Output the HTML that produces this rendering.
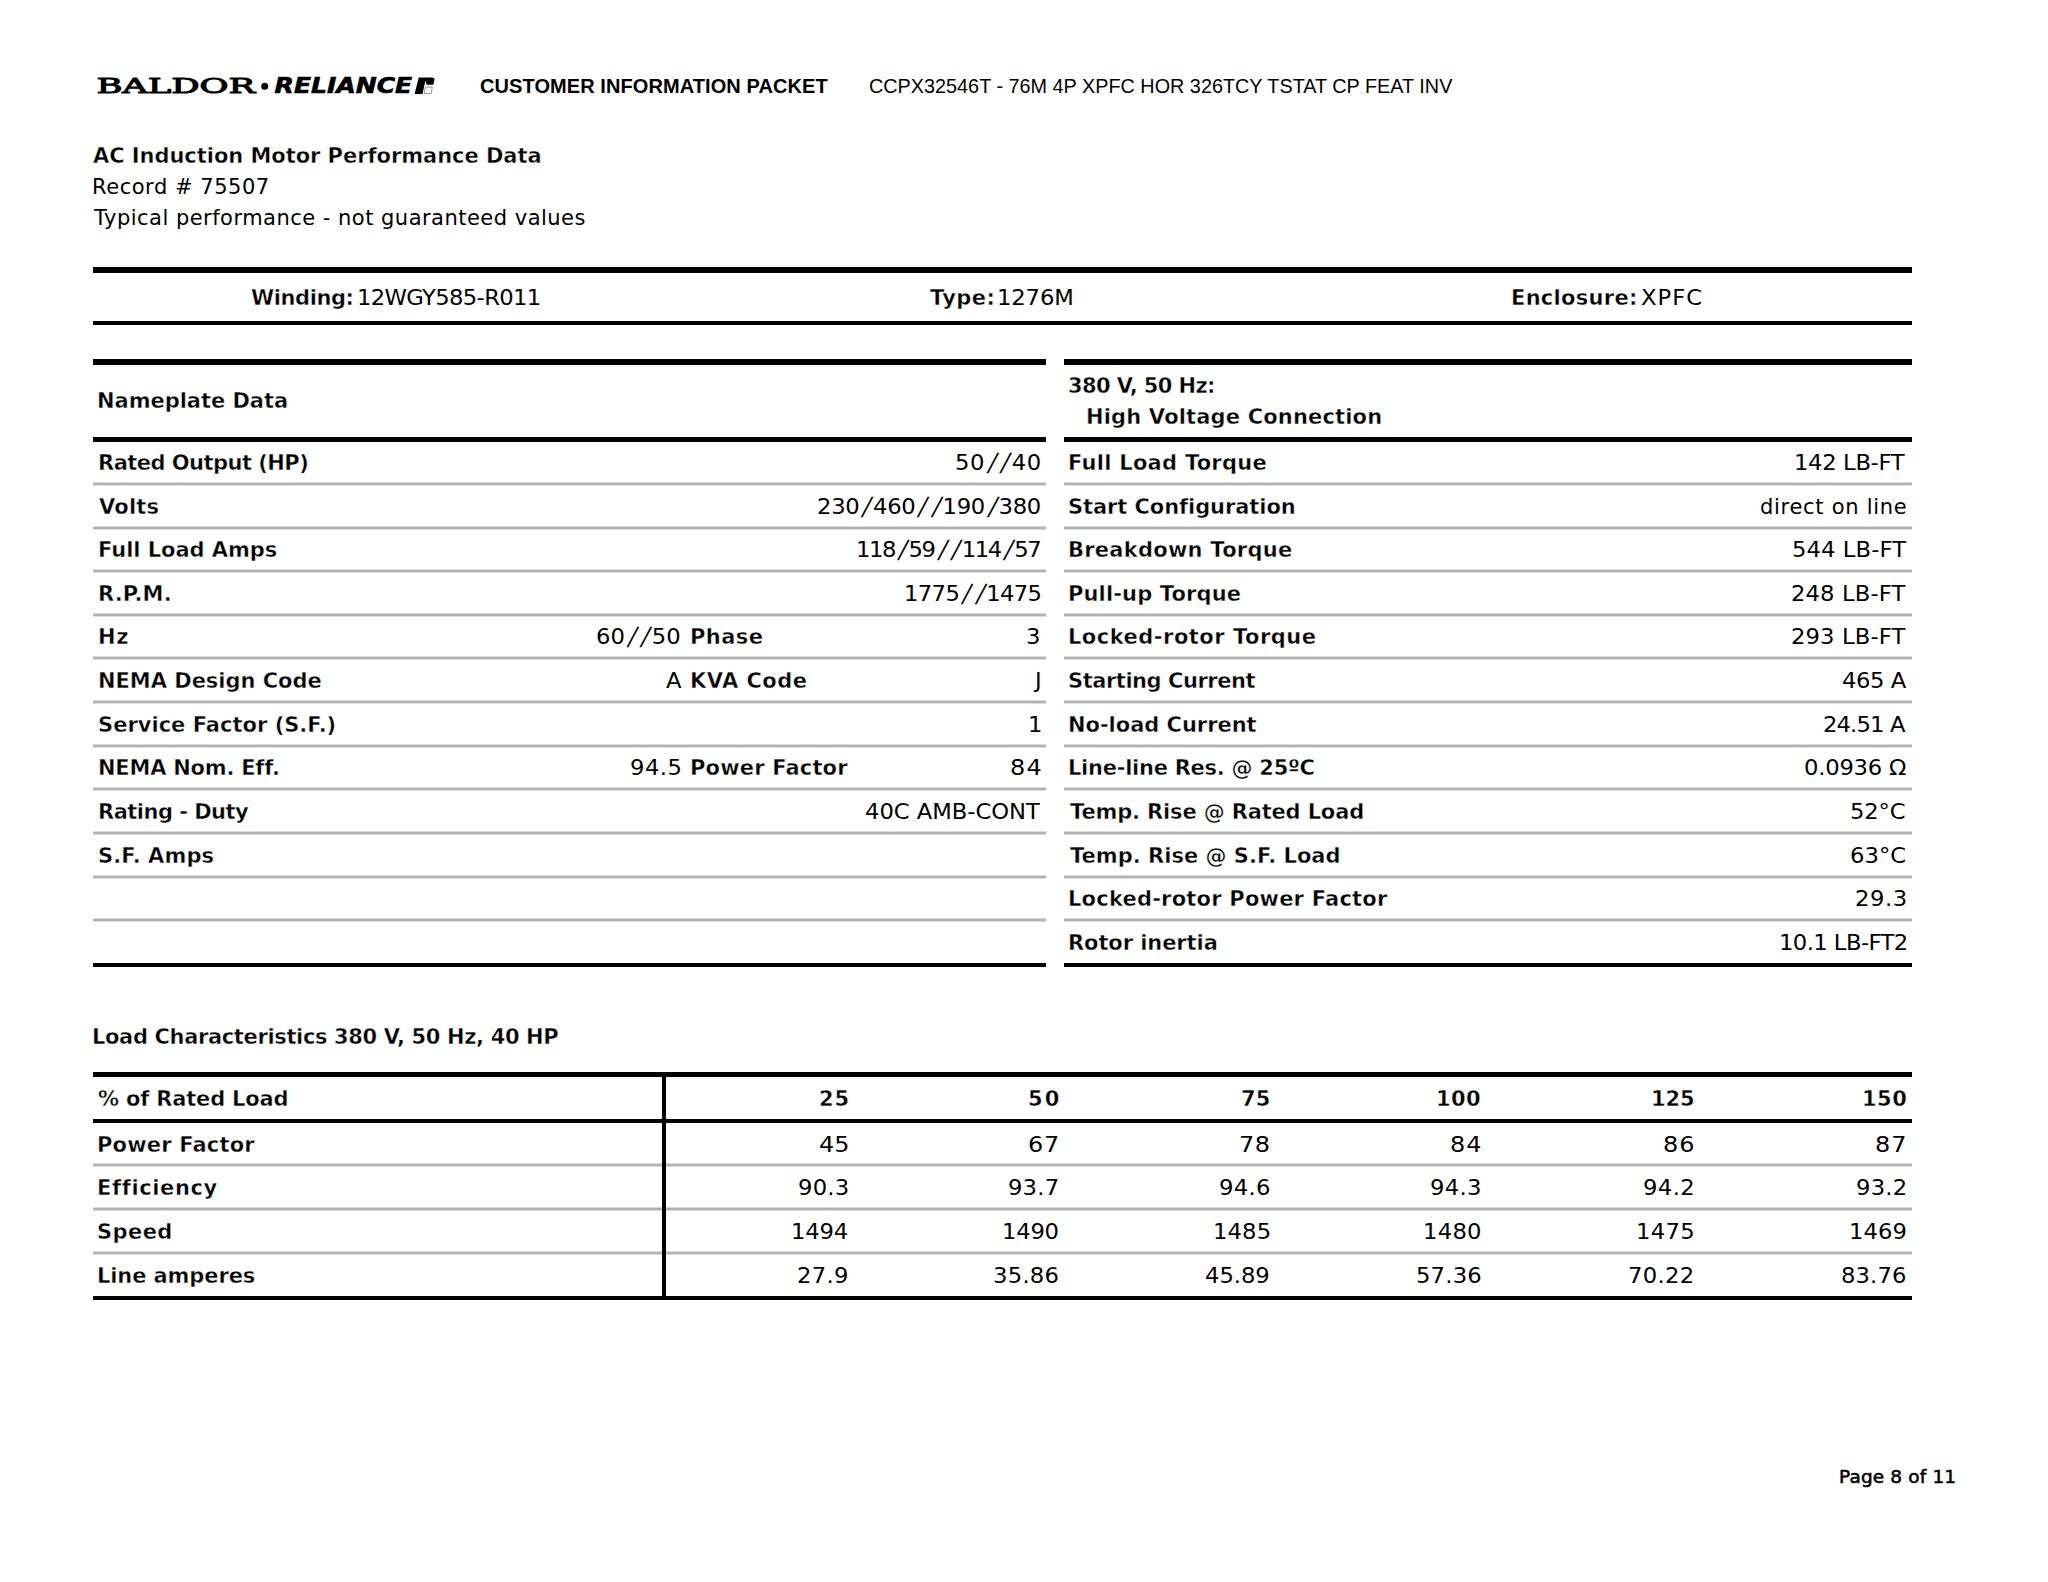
<!DOCTYPE html>
<html lang="en"><head><meta charset="utf-8"><title>Customer Information Packet</title>
<style>
html,body{margin:0;padding:0;background:#fff}
body{width:2048px;height:1582px;position:relative;overflow:hidden;font-family:"DejaVu Sans","Liberation Sans",sans-serif;color:#000}
.t{position:absolute;white-space:nowrap;transform-origin:0 50%;font-size:21px;line-height:26px;font-weight:400}
.b{font-weight:700;-webkit-text-stroke:0.4px #fff}
.ln{position:absolute}
.tl{height:4px;background:linear-gradient(to bottom,#dadada 0,#dadada 25%,#b1b1b1 25%,#b1b1b1 75%,#dedede 75%,#dedede 100%)}
.sl{display:inline-block;width:12.5px;text-align:center;transform:skewX(-13deg) scaleY(1.2);transform-origin:50% 64%}
.h1{font-family:"Liberation Sans",sans-serif;font-weight:700;font-size:20px;color:#000}
.h2{font-family:"Liberation Sans",sans-serif;font-weight:400;font-size:19.8px;color:#000}
.logo{position:absolute;left:90px;top:66px}
.pg{font-size:18.5px;-webkit-text-stroke:0.55px #000}
</style></head>
<body>
<svg class="logo" width="360" height="40" viewBox="90 66 360 40">
<text x="96.4" y="93.3" font-family="'DejaVu Serif','Liberation Serif',serif" font-weight="400" font-size="20.7" textLength="158.6" lengthAdjust="spacingAndGlyphs" stroke="#000" stroke-width="1.0" stroke-linejoin="round" style="vector-effect:non-scaling-stroke">BALDOR</text>
<circle cx="264.7" cy="86.3" r="3.5" fill="#000"/>
<text x="274.6" y="93.4" font-family="'DejaVu Sans','Liberation Sans',sans-serif" font-weight="700" font-style="oblique" font-size="20.9" textLength="137.6" lengthAdjust="spacingAndGlyphs" stroke="#000" stroke-width="0.6">RELIANCE</text>
<path d="M414.6 93.9 L418.7 77.4 H431.6 Q435.2 77.4 434.4 80.4 L433.2 84.8 H426.6 L425.6 80.8 L424.5 84.8 L422.5 93.9 Z" fill="#000"/>
<path d="M425.4 87.1 H432.3 L431.2 93.6 H424.3 Z" fill="#fff" stroke="#777" stroke-width="0.8"/>
</svg>
<div id="t0" class="t h1" style="top:72.97px;left:480px;letter-spacing:0.08px;">CUSTOMER INFORMATION PACKET</div>
<div id="t1" class="t h2" style="top:73.14px;left:869px;letter-spacing:0.02px;">CCPX32546T - 76M 4P XPFC HOR 326TCY TSTAT CP FEAT INV</div>
<div id="t2" class="t b" style="top:142.63px;left:93px;letter-spacing:-0.05px;">AC Induction Motor Performance Data</div>
<div id="t3" class="t " style="top:173.73px;left:92px;letter-spacing:0.53px;">Record # 75507</div>
<div id="t4" class="t " style="top:204.83px;left:94px;letter-spacing:0.48px;">Typical performance - not guaranteed values</div>
<div class="ln" style="left:93.30px;top:266.60px;width:1818.50px;height:6.00px;background:#000"></div>
<div class="ln" style="left:93.30px;top:321.00px;width:1818.50px;height:4.20px;background:#000"></div>
<div id="t5" class="t b" style="top:284.63px;left:251px;letter-spacing:-0.42px;">Winding:</div>
<div id="t6" class="t " style="top:284.63px;left:357px;transform:scaleX(1.08);letter-spacing:-0.61px;">12WGY585-R011</div>
<div id="t7" class="t b" style="top:284.63px;left:930px;letter-spacing:0.41px;">Type:</div>
<div id="t8" class="t " style="top:284.63px;left:997px;transform:scaleX(1.08);letter-spacing:-0.12px;">1276M</div>
<div id="t9" class="t b" style="top:284.63px;left:1511px;letter-spacing:0.28px;">Enclosure:</div>
<div id="t10" class="t " style="top:284.63px;left:1641px;transform:scaleX(1.08);letter-spacing:0.95px;">XPFC</div>
<div class="ln" style="left:93.30px;top:359.10px;width:952.70px;height:6.10px;background:#000"></div>
<div class="ln" style="left:1063.90px;top:359.10px;width:847.90px;height:6.10px;background:#000"></div>
<div class="ln" style="left:93.30px;top:437.10px;width:952.70px;height:4.60px;background:#000"></div>
<div class="ln" style="left:1063.90px;top:437.10px;width:847.90px;height:4.60px;background:#000"></div>
<div id="t11" class="t b" style="top:388.43px;left:97px;letter-spacing:-0.04px;">Nameplate Data</div>
<div id="t12" class="t b" style="top:373.03px;left:1068px;letter-spacing:-0.61px;">380 V, 50 Hz:</div>
<div id="t13" class="t b" style="top:404.33px;left:1086px;letter-spacing:0.16px;">High Voltage Connection</div>
<div class="ln tl" style="left:93.30px;top:482.00px;width:952.70px"></div>
<div class="ln tl" style="left:1063.90px;top:482.00px;width:847.90px"></div>
<div class="ln tl" style="left:93.30px;top:525.62px;width:952.70px"></div>
<div class="ln tl" style="left:1063.90px;top:525.62px;width:847.90px"></div>
<div class="ln tl" style="left:93.30px;top:569.24px;width:952.70px"></div>
<div class="ln tl" style="left:1063.90px;top:569.24px;width:847.90px"></div>
<div class="ln tl" style="left:93.30px;top:612.86px;width:952.70px"></div>
<div class="ln tl" style="left:1063.90px;top:612.86px;width:847.90px"></div>
<div class="ln tl" style="left:93.30px;top:656.48px;width:952.70px"></div>
<div class="ln tl" style="left:1063.90px;top:656.48px;width:847.90px"></div>
<div class="ln tl" style="left:93.30px;top:700.10px;width:952.70px"></div>
<div class="ln tl" style="left:1063.90px;top:700.10px;width:847.90px"></div>
<div class="ln tl" style="left:93.30px;top:743.72px;width:952.70px"></div>
<div class="ln tl" style="left:1063.90px;top:743.72px;width:847.90px"></div>
<div class="ln tl" style="left:93.30px;top:787.34px;width:952.70px"></div>
<div class="ln tl" style="left:1063.90px;top:787.34px;width:847.90px"></div>
<div class="ln tl" style="left:93.30px;top:830.96px;width:952.70px"></div>
<div class="ln tl" style="left:1063.90px;top:830.96px;width:847.90px"></div>
<div class="ln tl" style="left:93.30px;top:874.58px;width:952.70px"></div>
<div class="ln tl" style="left:1063.90px;top:874.58px;width:847.90px"></div>
<div class="ln tl" style="left:93.30px;top:918.20px;width:952.70px"></div>
<div class="ln tl" style="left:1063.90px;top:918.20px;width:847.90px"></div>
<div class="ln" style="left:93.30px;top:962.70px;width:952.70px;height:4.30px;background:#000"></div>
<div class="ln" style="left:1063.90px;top:962.70px;width:847.90px;height:4.30px;background:#000"></div>
<div id="t14" class="t b" style="top:449.93px;left:98px;letter-spacing:-0.53px;">Rated Output (HP)</div>
<div id="t15" class="t " style="top:449.93px;left:955px;transform:scaleX(1.08);letter-spacing:0.46px;">50<span class="sl">/</span><span class="sl">/</span>40</div>
<div id="t16" class="t b" style="top:493.55px;left:99px;letter-spacing:0.18px;">Volts</div>
<div id="t17" class="t " style="top:493.55px;left:817px;transform:scaleX(1.08);letter-spacing:-0.25px;">230<span class="sl">/</span>460<span class="sl">/</span><span class="sl">/</span>190<span class="sl">/</span>380</div>
<div id="t18" class="t b" style="top:537.17px;left:98px;letter-spacing:-0.05px;">Full Load Amps</div>
<div id="t19" class="t " style="top:537.17px;left:856px;transform:scaleX(1.08);letter-spacing:-1.30px;">118<span class="sl">/</span>59<span class="sl">/</span><span class="sl">/</span>114<span class="sl">/</span>57</div>
<div id="t20" class="t b" style="top:580.79px;left:98px;letter-spacing:0.14px;">R.P.M.</div>
<div id="t21" class="t " style="top:580.79px;left:904px;transform:scaleX(1.08);letter-spacing:-0.58px;">1775<span class="sl">/</span><span class="sl">/</span>1475</div>
<div id="t22" class="t b" style="top:624.41px;left:98px;letter-spacing:0.72px;">Hz</div>
<div id="t23" class="t " style="top:624.41px;left:596px;transform:scaleX(1.08);letter-spacing:0.00px;">60<span class="sl">/</span><span class="sl">/</span>50</div>
<div id="t24" class="t b" style="top:624.41px;left:690px;letter-spacing:0.43px;">Phase</div>
<div id="t25" class="t " style="top:624.41px;left:1026px;transform:scaleX(1.08);letter-spacing:0.45px;">3</div>
<div id="t26" class="t b" style="top:668.03px;left:98px;letter-spacing:-0.03px;">NEMA Design Code</div>
<div id="t27" class="t " style="top:668.03px;left:666px;transform:scaleX(1.08);letter-spacing:0.45px;">A</div>
<div id="t28" class="t b" style="top:668.03px;left:690px;letter-spacing:0.45px;">KVA Code</div>
<div id="t29" class="t " style="top:668.03px;left:1035px;transform:scaleX(1.08);letter-spacing:0.45px;">J</div>
<div id="t30" class="t b" style="top:711.65px;left:98px;letter-spacing:0.01px;">Service Factor (S.F.)</div>
<div id="t31" class="t " style="top:711.65px;left:1028px;transform:scaleX(1.08);letter-spacing:0.45px;">1</div>
<div id="t32" class="t b" style="top:755.27px;left:98px;letter-spacing:-0.23px;">NEMA Nom. Eff.</div>
<div id="t33" class="t " style="top:755.27px;left:630px;transform:scaleX(1.08);letter-spacing:0.42px;">94.5</div>
<div id="t34" class="t b" style="top:755.27px;left:690px;letter-spacing:0.17px;">Power Factor</div>
<div id="t35" class="t " style="top:755.27px;left:1010px;transform:scaleX(1.14);letter-spacing:1.20px;">84</div>
<div id="t36" class="t b" style="top:798.89px;left:98px;letter-spacing:-0.53px;">Rating - Duty</div>
<div id="t37" class="t " style="top:798.89px;left:865px;transform:scaleX(1.08);letter-spacing:-0.04px;">40C AMB-CONT</div>
<div id="t38" class="t b" style="top:842.51px;left:98px;letter-spacing:0.09px;">S.F. Amps</div>
<div id="t39" class="t b" style="top:449.93px;left:1068px;letter-spacing:0.26px;">Full Load Torque</div>
<div id="t40" class="t " style="top:449.93px;left:1794px;transform:scaleX(1.08);letter-spacing:-0.32px;">142 LB-FT</div>
<div id="t41" class="t b" style="top:493.55px;left:1068px;letter-spacing:-0.09px;">Start Configuration</div>
<div id="t42" class="t " style="top:493.55px;left:1760px;letter-spacing:0.71px;">direct on line</div>
<div id="t43" class="t b" style="top:537.17px;left:1068px;letter-spacing:0.25px;">Breakdown Torque</div>
<div id="t44" class="t " style="top:537.17px;left:1792px;transform:scaleX(1.08);letter-spacing:0.07px;">544 LB-FT</div>
<div id="t45" class="t b" style="top:580.79px;left:1068px;letter-spacing:0.13px;">Pull-up Torque</div>
<div id="t46" class="t " style="top:580.79px;left:1791px;transform:scaleX(1.08);letter-spacing:0.11px;">248 LB-FT</div>
<div id="t47" class="t b" style="top:624.41px;left:1068px;letter-spacing:0.49px;">Locked-rotor Torque</div>
<div id="t48" class="t " style="top:624.41px;left:1791px;transform:scaleX(1.08);letter-spacing:0.11px;">293 LB-FT</div>
<div id="t49" class="t b" style="top:668.03px;left:1068px;letter-spacing:-0.47px;">Starting Current</div>
<div id="t50" class="t " style="top:668.03px;left:1842px;transform:scaleX(1.08);letter-spacing:-0.42px;">465 A</div>
<div id="t51" class="t b" style="top:711.65px;left:1068px;letter-spacing:-0.04px;">No-load Current</div>
<div id="t52" class="t " style="top:711.65px;left:1823px;transform:scaleX(1.08);letter-spacing:-0.81px;">24.51 A</div>
<div id="t53" class="t b" style="top:755.27px;left:1068px;letter-spacing:-0.27px;">Line-line Res. @ 25ºC</div>
<div id="t54" class="t " style="top:755.27px;left:1804px;transform:scaleX(1.08);letter-spacing:-0.21px;">0.0936 Ω</div>
<div id="t55" class="t b" style="top:798.89px;left:1070px;letter-spacing:-0.16px;">Temp. Rise @ Rated Load</div>
<div id="t56" class="t " style="top:798.89px;left:1850px;transform:scaleX(1.08);letter-spacing:-0.12px;">52°C</div>
<div id="t57" class="t b" style="top:842.51px;left:1070px;letter-spacing:0.01px;">Temp. Rise @ S.F. Load</div>
<div id="t58" class="t " style="top:842.51px;left:1850px;transform:scaleX(1.08);letter-spacing:0.05px;">63°C</div>
<div id="t59" class="t b" style="top:886.13px;left:1068px;letter-spacing:0.21px;">Locked-rotor Power Factor</div>
<div id="t60" class="t " style="top:886.13px;left:1855px;transform:scaleX(1.08);letter-spacing:0.50px;">29.3</div>
<div id="t61" class="t b" style="top:929.75px;left:1068px;letter-spacing:-0.09px;">Rotor inertia</div>
<div id="t62" class="t " style="top:929.75px;left:1779px;transform:scaleX(1.08);letter-spacing:-0.53px;">10.1 LB-FT2</div>
<div id="t63" class="t b" style="top:1024.13px;left:92px;letter-spacing:-0.36px;">Load Characteristics 380 V, 50 Hz, 40 HP</div>
<div class="ln" style="left:93.30px;top:1071.80px;width:1818.50px;height:5.60px;background:#000"></div>
<div class="ln" style="left:93.30px;top:1119.10px;width:1818.50px;height:4.00px;background:#000"></div>
<div class="ln tl" style="left:93.30px;top:1163.40px;width:1818.50px"></div>
<div class="ln tl" style="left:93.30px;top:1207.00px;width:1818.50px"></div>
<div class="ln tl" style="left:93.30px;top:1250.60px;width:1818.50px"></div>
<div class="ln" style="left:93.30px;top:1295.50px;width:1818.50px;height:4.30px;background:#000"></div>
<div class="ln" style="left:661.7px;top:1071.8px;width:4.3px;height:228px;background:#000"></div>
<div id="t64" class="t b" style="top:1086.33px;left:98px;letter-spacing:-0.19px;">% of Rated Load</div>
<div id="t65" class="t b" style="top:1086.33px;left:819px;letter-spacing:0.93px;">25</div>
<div id="t66" class="t b" style="top:1086.33px;left:1028px;letter-spacing:2.04px;">50</div>
<div id="t67" class="t b" style="top:1086.33px;left:1241px;letter-spacing:0.10px;">75</div>
<div id="t68" class="t b" style="top:1086.33px;left:1436px;letter-spacing:0.45px;">100</div>
<div id="t69" class="t b" style="top:1086.33px;left:1651px;letter-spacing:-0.11px;">125</div>
<div id="t70" class="t b" style="top:1086.33px;left:1862px;letter-spacing:0.46px;">150</div>
<div id="t71" class="t b" style="top:1131.73px;left:97px;letter-spacing:0.18px;">Power Factor</div>
<div id="t72" class="t " style="top:1131.73px;left:819px;transform:scaleX(1.14);letter-spacing:0.04px;">45</div>
<div id="t73" class="t " style="top:1131.73px;left:1028px;transform:scaleX(1.14);letter-spacing:0.71px;">67</div>
<div id="t74" class="t " style="top:1131.73px;left:1239px;transform:scaleX(1.14);letter-spacing:0.39px;">78</div>
<div id="t75" class="t " style="top:1131.73px;left:1450px;transform:scaleX(1.14);letter-spacing:0.88px;">84</div>
<div id="t76" class="t " style="top:1131.73px;left:1663px;transform:scaleX(1.14);letter-spacing:0.81px;">86</div>
<div id="t77" class="t " style="top:1131.73px;left:1875px;transform:scaleX(1.14);letter-spacing:0.95px;">87</div>
<div id="t78" class="t b" style="top:1175.33px;left:97px;letter-spacing:0.60px;">Efficiency</div>
<div id="t79" class="t " style="top:1175.33px;left:798px;transform:scaleX(1.08);letter-spacing:0.21px;">90.3</div>
<div id="t80" class="t " style="top:1175.33px;left:1008px;transform:scaleX(1.08);letter-spacing:0.18px;">93.7</div>
<div id="t81" class="t " style="top:1175.33px;left:1219px;transform:scaleX(1.08);letter-spacing:0.27px;">94.6</div>
<div id="t82" class="t " style="top:1175.33px;left:1430px;transform:scaleX(1.08);letter-spacing:0.32px;">94.3</div>
<div id="t83" class="t " style="top:1175.33px;left:1643px;transform:scaleX(1.08);letter-spacing:0.38px;">94.2</div>
<div id="t84" class="t " style="top:1175.33px;left:1856px;transform:scaleX(1.08);letter-spacing:0.23px;">93.2</div>
<div id="t85" class="t b" style="top:1218.93px;left:97px;letter-spacing:0.42px;">Speed</div>
<div id="t86" class="t " style="top:1218.93px;left:791px;transform:scaleX(1.08);letter-spacing:-0.17px;">1494</div>
<div id="t87" class="t " style="top:1218.93px;left:1002px;transform:scaleX(1.08);letter-spacing:-0.21px;">1490</div>
<div id="t88" class="t " style="top:1218.93px;left:1213px;transform:scaleX(1.08);letter-spacing:0.12px;">1485</div>
<div id="t89" class="t " style="top:1218.93px;left:1423px;transform:scaleX(1.08);letter-spacing:0.24px;">1480</div>
<div id="t90" class="t " style="top:1218.93px;left:1636px;transform:scaleX(1.08);letter-spacing:0.29px;">1475</div>
<div id="t91" class="t " style="top:1218.93px;left:1849px;transform:scaleX(1.08);letter-spacing:0.03px;">1469</div>
<div id="t92" class="t b" style="top:1262.53px;left:97px;letter-spacing:-0.11px;">Line amperes</div>
<div id="t93" class="t " style="top:1262.53px;left:797px;transform:scaleX(1.08);letter-spacing:0.31px;">27.9</div>
<div id="t94" class="t " style="top:1262.53px;left:993px;transform:scaleX(1.08);letter-spacing:0.24px;">35.86</div>
<div id="t95" class="t " style="top:1262.53px;left:1205px;transform:scaleX(1.08);letter-spacing:-0.04px;">45.89</div>
<div id="t96" class="t " style="top:1262.53px;left:1416px;transform:scaleX(1.08);letter-spacing:0.18px;">57.36</div>
<div id="t97" class="t " style="top:1262.53px;left:1628px;transform:scaleX(1.08);letter-spacing:0.31px;">70.22</div>
<div id="t98" class="t " style="top:1262.53px;left:1841px;transform:scaleX(1.08);letter-spacing:0.12px;">83.76</div>
<div id="t99" class="t pg" style="top:1464.10px;left:1839px;letter-spacing:0.14px;">Page 8 of 11</div>
</body></html>
